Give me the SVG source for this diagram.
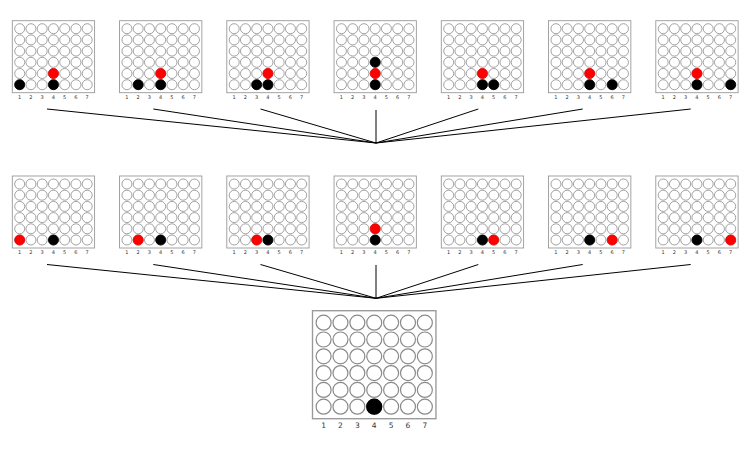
<svg xmlns="http://www.w3.org/2000/svg" width="750" height="450" viewBox="0 0 750 450">
<style>
.frame{fill:#fff;stroke:#999;stroke-width:0.9}
.hole{fill:#fff;stroke:#8a8a8a;stroke-width:0.8}
.b{fill:#000;stroke:#000;stroke-width:0.8}
.r{fill:#f00;stroke:#e00;stroke-width:0.8}
.lbl{font-family:"DejaVu Sans","Liberation Sans",sans-serif;font-size:5px;fill:#333;text-anchor:middle}
.edge{stroke:#000;stroke-width:1;fill:none}
</style>
<defs>
<g id="board">
<rect class="frame" x="0" y="0" width="82.3" height="72"/>
<g class="hole">
<circle cx="7.4" cy="8" r="5"/><circle cx="18.65" cy="8" r="5"/><circle cx="29.9" cy="8" r="5"/><circle cx="41.15" cy="8" r="5"/><circle cx="52.4" cy="8" r="5"/><circle cx="63.65" cy="8" r="5"/><circle cx="74.9" cy="8" r="5"/>
<circle cx="7.4" cy="19.2" r="5"/><circle cx="18.65" cy="19.2" r="5"/><circle cx="29.9" cy="19.2" r="5"/><circle cx="41.15" cy="19.2" r="5"/><circle cx="52.4" cy="19.2" r="5"/><circle cx="63.65" cy="19.2" r="5"/><circle cx="74.9" cy="19.2" r="5"/>
<circle cx="7.4" cy="30.4" r="5"/><circle cx="18.65" cy="30.4" r="5"/><circle cx="29.9" cy="30.4" r="5"/><circle cx="41.15" cy="30.4" r="5"/><circle cx="52.4" cy="30.4" r="5"/><circle cx="63.65" cy="30.4" r="5"/><circle cx="74.9" cy="30.4" r="5"/>
<circle cx="7.4" cy="41.6" r="5"/><circle cx="18.65" cy="41.6" r="5"/><circle cx="29.9" cy="41.6" r="5"/><circle cx="41.15" cy="41.6" r="5"/><circle cx="52.4" cy="41.6" r="5"/><circle cx="63.65" cy="41.6" r="5"/><circle cx="74.9" cy="41.6" r="5"/>
<circle cx="7.4" cy="52.8" r="5"/><circle cx="18.65" cy="52.8" r="5"/><circle cx="29.9" cy="52.8" r="5"/><circle cx="41.15" cy="52.8" r="5"/><circle cx="52.4" cy="52.8" r="5"/><circle cx="63.65" cy="52.8" r="5"/><circle cx="74.9" cy="52.8" r="5"/>
<circle cx="7.4" cy="64" r="5"/><circle cx="18.65" cy="64" r="5"/><circle cx="29.9" cy="64" r="5"/><circle cx="41.15" cy="64" r="5"/><circle cx="52.4" cy="64" r="5"/><circle cx="63.65" cy="64" r="5"/><circle cx="74.9" cy="64" r="5"/>
</g>
<g class="lbl">
<text x="7.4" y="78.3">1</text><text x="18.65" y="78.3">2</text><text x="29.9" y="78.3">3</text><text x="41.15" y="78.3">4</text><text x="52.4" y="78.3">5</text><text x="63.65" y="78.3">6</text><text x="74.9" y="78.3">7</text>
</g>
</g>
</defs>

<g id="edges">
<line class="edge" x1="47" y1="109" x2="376" y2="143"/>
<line class="edge" x1="153.3" y1="109" x2="376" y2="143"/>
<line class="edge" x1="260.5" y1="109" x2="376" y2="143"/>
<line class="edge" x1="376" y1="110" x2="376" y2="143"/>
<line class="edge" x1="478.3" y1="109" x2="376" y2="143"/>
<line class="edge" x1="582.7" y1="109" x2="376" y2="143"/>
<line class="edge" x1="690.7" y1="109" x2="376" y2="143"/>
<line class="edge" x1="47" y1="264.5" x2="376" y2="298.3"/>
<line class="edge" x1="153.3" y1="264.5" x2="376" y2="298.3"/>
<line class="edge" x1="260.5" y1="264.5" x2="376" y2="298.3"/>
<line class="edge" x1="376" y1="265" x2="376" y2="298.3"/>
<line class="edge" x1="478.3" y1="264.5" x2="376" y2="298.3"/>
<line class="edge" x1="582.7" y1="264.5" x2="376" y2="298.3"/>
<line class="edge" x1="690.7" y1="264.5" x2="376" y2="298.3"/>
</g>

<!-- top row -->
<g id="t1" transform="translate(12.3,20.7)"><use href="#board"/><circle class="b" cx="7.4" cy="64" r="5"/><circle class="b" cx="41.15" cy="64" r="5"/><circle class="r" cx="41.15" cy="52.8" r="5"/></g>
<g id="t2" transform="translate(119.55,20.7)"><use href="#board"/><circle class="b" cx="18.65" cy="64" r="5"/><circle class="b" cx="41.15" cy="64" r="5"/><circle class="r" cx="41.15" cy="52.8" r="5"/></g>
<g id="t3" transform="translate(226.8,20.7)"><use href="#board"/><circle class="b" cx="29.9" cy="64" r="5"/><circle class="b" cx="41.15" cy="64" r="5"/><circle class="r" cx="41.15" cy="52.8" r="5"/></g>
<g id="t4" transform="translate(334.05,20.7)"><use href="#board"/><circle class="b" cx="41.15" cy="64" r="5"/><circle class="r" cx="41.15" cy="52.8" r="5"/><circle class="b" cx="41.15" cy="41.6" r="5"/></g>
<g id="t5" transform="translate(441.3,20.7)"><use href="#board"/><circle class="b" cx="41.15" cy="64" r="5"/><circle class="b" cx="52.4" cy="64" r="5"/><circle class="r" cx="41.15" cy="52.8" r="5"/></g>
<g id="t6" transform="translate(548.55,20.7)"><use href="#board"/><circle class="b" cx="41.15" cy="64" r="5"/><circle class="b" cx="63.65" cy="64" r="5"/><circle class="r" cx="41.15" cy="52.8" r="5"/></g>
<g id="t7" transform="translate(655.8,20.7)"><use href="#board"/><circle class="b" cx="41.15" cy="64" r="5"/><circle class="b" cx="74.9" cy="64" r="5"/><circle class="r" cx="41.15" cy="52.8" r="5"/></g>

<!-- middle row -->
<g id="m1" transform="translate(12.3,176)"><use href="#board"/><circle class="r" cx="7.4" cy="64" r="5"/><circle class="b" cx="41.15" cy="64" r="5"/></g>
<g id="m2" transform="translate(119.55,176)"><use href="#board"/><circle class="r" cx="18.65" cy="64" r="5"/><circle class="b" cx="41.15" cy="64" r="5"/></g>
<g id="m3" transform="translate(226.8,176)"><use href="#board"/><circle class="r" cx="29.9" cy="64" r="5"/><circle class="b" cx="41.15" cy="64" r="5"/></g>
<g id="m4" transform="translate(334.05,176)"><use href="#board"/><circle class="b" cx="41.15" cy="64" r="5"/><circle class="r" cx="41.15" cy="52.8" r="5"/></g>
<g id="m5" transform="translate(441.3,176)"><use href="#board"/><circle class="b" cx="41.15" cy="64" r="5"/><circle class="r" cx="52.4" cy="64" r="5"/></g>
<g id="m6" transform="translate(548.55,176)"><use href="#board"/><circle class="b" cx="41.15" cy="64" r="5"/><circle class="r" cx="63.65" cy="64" r="5"/></g>
<g id="m7" transform="translate(655.8,176)"><use href="#board"/><circle class="b" cx="41.15" cy="64" r="5"/><circle class="r" cx="74.9" cy="64" r="5"/></g>

<!-- root -->
<g id="root" transform="translate(312.5,310.7) scale(1.5)"><use href="#board"/><circle class="b" cx="41.15" cy="64" r="5"/></g>
</svg>
